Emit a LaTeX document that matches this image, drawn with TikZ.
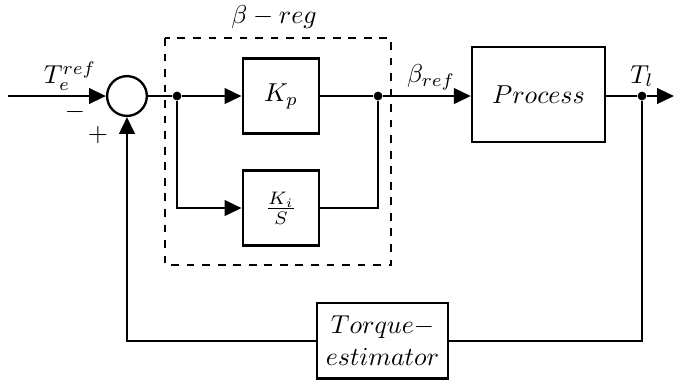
\documentclass[tikz,border=0pt]{standalone}
\usepackage{tikz}
\usetikzlibrary{
  arrows.meta,
  positioning,
  calc
}
\usepackage{amsmath}

\begin{document}
\begin{tikzpicture}[
  blockbox/.style={draw, line width=0.9pt, minimum width=1.04cm, minimum height=1.02cm, align=center},
  sumnode/.style={draw, line width=0.9pt, circle, minimum size=0.54cm, inner sep=0pt},
  junction/.style={circle, fill, inner sep=0pt, minimum size=3.4pt},
  sig/.style={line width=0.9pt},
  lbl/.style={inner sep=1pt},
  >={Triangle[length=6.5pt, width=6pt]}
]
\useasboundingbox (0,-3.867) rectangle (9.146,1.303);

\coordinate (in) at (0.109, 0);
\node[sumnode] (sum) at (1.723, 0) {};
\node[junction] (j1) at (2.402, 0) {};
\node[blockbox] (kp) at (3.813, 0) {$K_p$};
\node[blockbox] (ki) at (3.813, -1.52) {$\frac{K_i}{S}$};
\node[junction] (j2) at (5.13, 0) {};
\node[blockbox, minimum width=1.805cm, minimum height=1.29cm] (proc) at (7.307, 0.02) {$Process$};
\node[junction] (j3) at (8.712, 0) {};
\coordinate (out) at (9.146, 0);
\node[blockbox, minimum width=1.78cm, minimum height=1.03cm] (est) at (5.19, -3.32)
  {$Torque-$\\$estimator$};

% beta regulator frame
\draw[line width=0.9pt, dash pattern=on 3pt off 3pt] (2.239, 0.787) rectangle (5.306, -2.293);
\node[lbl] (reglabel) at (3.718, 1.07) {$\beta-reg$};

\draw[sig, ->] (in) -- (sum.west);
\node[lbl] (teref) at (0.95, 0.27) {$T_e^{ref}$};
\draw[sig] (sum.east) -- (j1);
\draw[sig, ->] (j1) -- (kp.west);
\draw[sig, ->] (j1) |- (ki.west);
\draw[sig] (kp.east) -- (j2);
\draw[sig] (ki.east) -| (j2);
\draw[sig, ->] (j2) -- (proc.west |- j2);
\node[lbl] (betaref) at (5.85, 0.25) {$\beta_{ref}$};
\draw[sig] (proc.east |- j3) -- (j3);
\draw[sig, ->] (j3) -- (out);
\node[lbl] (tl) at (8.712, 0.27) {$T_l$};

% feedback path
\draw[sig] (j3) |- (est.east);
\draw[sig, ->] (est.west) -| (sum.south);
\node[lbl] (minus) at (1.018, -0.217) {$-$};
\node[lbl] (plus) at (1.33, -0.53) {$+$};

\end{tikzpicture}
\end{document}
